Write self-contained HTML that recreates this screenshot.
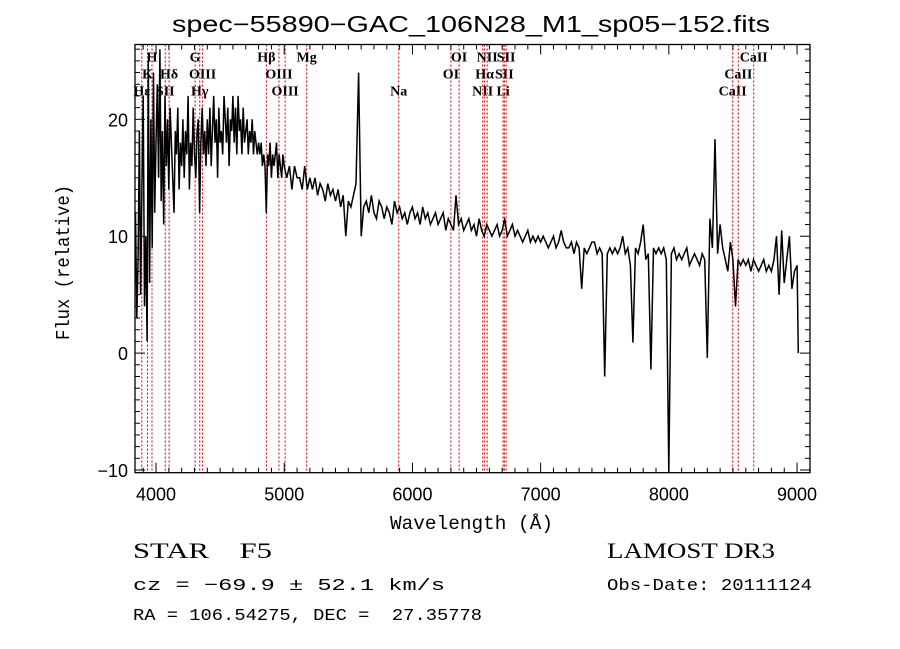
<!DOCTYPE html>
<html><head><meta charset="utf-8">
<style>
html,body{margin:0;padding:0;background:#fff;}
#wrap{position:relative;width:900px;height:649px;overflow:hidden;background:#fff;}
svg text{font-family:"Liberation Serif",serif;fill:#000;white-space:pre;}
.sans{font-family:"Liberation Sans",sans-serif !important;}
.mono{font-family:"Liberation Mono",monospace !important;}
</style></head>
<body>
<div id="wrap">
<svg id="chart" width="900" height="649" xmlns="http://www.w3.org/2000/svg" xml:space="preserve">
<text x="172" y="32" textLength="598" lengthAdjust="spacingAndGlyphs" font-size="23" class="sans">spec−55890−GAC_106N28_M1_sp05−152.fits</text>
<text x="390" y="529" textLength="163" lengthAdjust="spacingAndGlyphs" font-size="19" class="mono">Wavelength (Å)</text>
<text transform="translate(69,340) rotate(-90)" textLength="155" lengthAdjust="spacingAndGlyphs" font-size="19" class="mono">Flux (relative)</text>
<text x="133" y="558" textLength="139" lengthAdjust="spacingAndGlyphs" font-size="22">STAR    F5</text>
<text x="133" y="590" textLength="312" lengthAdjust="spacingAndGlyphs" font-size="17" class="mono">cz = −69.9 ± 52.1 km/s</text>
<text x="133" y="620" textLength="349" lengthAdjust="spacingAndGlyphs" font-size="17" class="mono">RA = 106.54275, DEC =  27.35778</text>
<text x="607" y="558" textLength="168" lengthAdjust="spacingAndGlyphs" font-size="22">LAMOST DR3</text>
<text x="607" y="590" textLength="205" lengthAdjust="spacingAndGlyphs" font-size="17" class="mono">Obs-Date: 20111124</text>
</svg>
</div>
<script>
const wavelengths = [];
for (let w = 3840; w <= 5000; w += 10) wavelengths.push(w);
for (let w = 5020; w <= 9000; w += 20) wavelengths.push(w);
wavelengths.push(9010);
const flux = [
12,3,8,19,5,14,22,4,10,1,25,6,20,9,24,12,18,
23,15,26,13,19,11,22,16,20,14,21,18,15,12,19,17,21,14,18,16,
20,15,19,17,22,14,18,16,21,17,15,19,20,12,18,21,17,19,16,20,
17,21,16,19,22,18,20,15,21,18,19,17,22,20,18,21,16,20,19,22,
18,21,17,22,19,20,17,21,18,19,20,17,19,18,20,17,19,18,17,18,
17,18,16,17,16,12,17,16,18,15,17,16,17,18,15,17,16,15,17,16,
15,16,14,16,15,15,14,16,14,15,
14,15,13.5,14.5,14,13,14.5,13.5,14,13,14,12.5,13.5,10,13,12.5,13.5,14.5,24,10,
12.5,13,12,13.5,12,11.5,13,12.5,11.5,12.5,12,11,13,12,12.5,11.5,12,11,12,12.5,
11.5,12,11,12.5,11.5,12,11,11.5,12,11,11.5,12,10.5,11.5,11,10.5,13.5,11,11.5,10.5,
11,11.5,10.5,11,10,11.5,10.5,10,11,10.5,10,10.5,11,10,10.5,11.5,10,10.5,11,10,
10.5,10,9.5,10,10.5,9.5,10,9.5,10,9.5,10,9.5,9,9.5,10,9,9.5,10.5,9.5,9,
9,9.5,8.5,9.5,9,5.5,9,8.5,9,9.5,9.5,8.5,9,8.5,-2,8.5,9,8.5,9,8.5,
9,10,8.5,9,7.5,0.9,9,8.5,9.5,11,8,8.5,-1.4,9,8.5,9,8.5,9,8,-10.2,
8.5,9,8,8.5,8,8.5,9,7.5,8,8.5,8,7.5,8.5,8,-0.4,11.5,9,18.3,8.5,11,
9,8,7,9.5,8,4,8,7.5,8,7.5,8,7,8,7.5,7,7.5,8,7,7.5,7,
8,10,5,10.5,6,8,10,5.5,7,7.5,
0
];
const xTicks = [4000,5000,6000,7000,8000,9000];
const yTicks = [-10,0,10,20];
const lineWaves = [3889,3933.7,3968.5,4072,4102,4305,4341,4363,4861,4959,5007,5175,5893,6300,6364,6548,6563,6583,6707,6717,6731,8498,8542,8662];
const labelTexts = ["Hε","K","H","SII","Hδ","G","Hγ","OIII","Hβ","OIII","OIII","Mg","Na","OI","OI","NII","Hα","NII","Li","SII","SII","CaII","CaII","CaII"];
const labelRows = [3,2,1,3,2,1,3,2,1,2,3,1,3,2,1,3,2,1,3,2,1,3,2,1];

const L=135,R=810,T=44.5,B=472.7;
const X0=3836,X1=9101,Y0=-10.23,Y1=26.4;
const sx = w => L + (w-X0)/(X1-X0)*(R-L);
const sy = v => B - (v-Y0)/(Y1-Y0)*(B-T);
const NS="http://www.w3.org/2000/svg";
const svg=document.getElementById('chart');
function mk(tag,attrs){const e=document.createElementNS(NS,tag);for(const k in attrs)e.setAttribute(k,attrs[k]);svg.appendChild(e);return e;}

lineWaves.forEach((w,i)=>{
  const x=sx(w);
  const ln=mk('line',{x1:x,y1:T,x2:x,y2:B,stroke:'#c00000','stroke-width':1,'stroke-dasharray':'2,2'});
  
  
  const t=mk('text',{x:x,y:T+17+(labelRows[i]-1)*17,'text-anchor':'middle','font-size':14,'font-weight':'bold'});
  t.textContent=labelTexts[i];
  
  
});

let d='';
wavelengths.forEach((w,i)=>{const x=sx(w),y=Math.max(T,Math.min(B,sy(flux[i])));d+=(i?'L':'M')+x.toFixed(1)+','+y.toFixed(1);});
const sp=mk('path',{d:d,fill:'none',stroke:'#000','stroke-width':1.5});



const fr=mk('rect',{x:L,y:T,width:R-L,height:B-T,fill:'none',stroke:'#000','stroke-width':1.3});



for(let w=3900;w<=9100;w+=100){
  const x=sx(w);const major=(w%1000===0);const len=major?10:5;
  mk('line',{x1:x,y1:B,x2:x,y2:B-len,stroke:'#000'});
  mk('line',{x1:x,y1:T,x2:x,y2:T+len,stroke:'#000'});
}
xTicks.forEach(w=>{
  const t=mk('text',{x:sx(w),y:B+28,'text-anchor':'middle','font-size':18,class:'sans'});
  t.textContent=w;
  
  
});
for(let v=-10;v<=26;v+=1){
  const y=sy(v);const major=(v%10===0);const len=major?10:5;
  mk('line',{x1:L,y1:y,x2:L+len,y2:y,stroke:'#000'});
  mk('line',{x1:R,y1:y,x2:R-len,y2:y,stroke:'#000'});
}
yTicks.forEach(v=>{
  const t=mk('text',{x:L-7,y:sy(v)+7,'text-anchor':'end','font-size':18,class:'sans'});
  t.textContent=(v<0?'−':'')+Math.abs(v);
  
  
});
</script>
</body></html>
